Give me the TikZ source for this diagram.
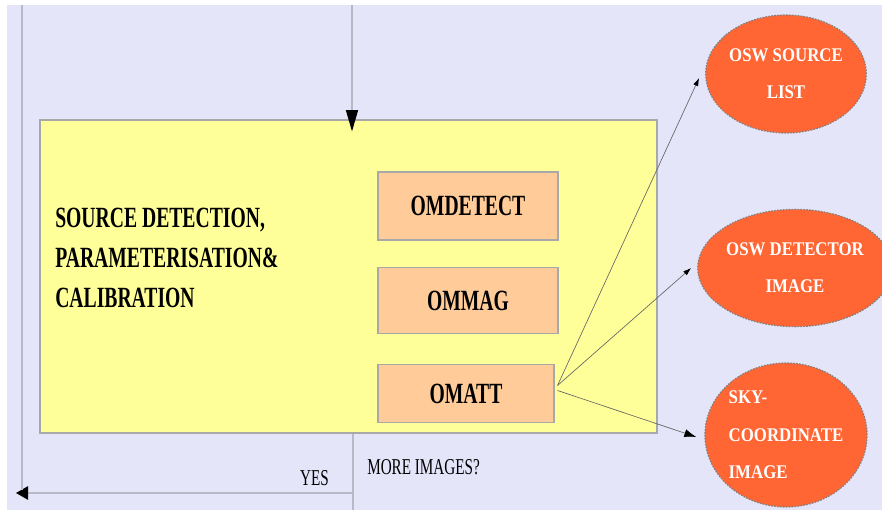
\documentclass[tikz,border=0pt]{standalone}
\usepackage{fontspec}
\setmainfont{Liberation Serif}
\newfontfamily\narrowfont[FakeStretch=0.67]{Liberation Serif}
\newfontfamily\ovalfont[FakeStretch=0.87]{Liberation Serif}
\usetikzlibrary{arrows.meta,positioning,calc,shapes.geometric}

\definecolor{panelbg}{HTML}{E5E5FA}
\definecolor{procyellow}{HTML}{FFFF99}
\definecolor{taskpeach}{HTML}{FFCC99}
\definecolor{ovalred}{HTML}{FF6633}
\definecolor{boxline}{HTML}{A8A8A8}
\definecolor{flowgray}{HTML}{B8B8C6}

\tikzset{
	procbox/.style={draw=boxline, line width=0.8pt, fill=procyellow, inner sep=0pt},
	taskbox/.style={draw=boxline, line width=0.8pt, fill=taskpeach, inner sep=0pt,
		font=\narrowfont\bfseries\fontsize{22}{26}\selectfont},
	product/.style={ellipse, draw=gray, line width=0.9pt, dash pattern=on 1.2pt off 1pt,
		fill=ovalred, text=white, inner sep=0pt,
		font=\ovalfont\bfseries\fontsize{14.5}{28}\selectfont},
	stagetext/.style={inner sep=0pt, align=left,
		font=\narrowfont\bfseries\fontsize{22}{30}\selectfont},
	note/.style={inner sep=0pt, font=\narrowfont\fontsize{17}{20}\selectfont},
	flow/.style={draw=flowgray, line width=1.2pt},
	link/.style={draw=black!60, line width=0.5pt, -{Latex[length=6pt,width=4pt,color=black]}},
}

\begin{document}
\begin{tikzpicture}[x=0.75pt, y=-0.75pt]
		\useasboundingbox (0,0) rectangle (882,510);
		\fill[white] (0,0) rectangle (882,510);
		\fill[panelbg] (7,5) rectangle (882,510);

		% processing stage
		\node[procbox, minimum width=462.75pt, minimum height=234.75pt] (proc) at (348.5,276.5) {};
		\node[stagetext, anchor=west] (stage) at (55,258)
			{SOURCE DETECTION,\\PARAMETERISATION\&\\CALIBRATION};
		\node[taskbox, minimum width=135pt, minimum height=51pt] (detect) at (468,206) {OMDETECT};
		\node[taskbox, minimum width=135pt, minimum height=49pt] (mag) at (468,300.5) {OMMAG};
		\node[taskbox, minimum width=132pt, minimum height=44pt] (att) at (466,393.5) {OMATT};

		% output products
		\node[product, minimum width=119pt, minimum height=88.5pt, align=center] (srclist) at (786,74)
			{OSW SOURCE\\LIST};
		\node[product, minimum width=122pt, minimum height=88pt, align=center] (detimg) at (795,268)
			{OSW DETECTOR\\IMAGE};
		\node[product, minimum width=118.5pt, minimum height=108pt, align=left] (skyimg) at (786,435)
			{SKY-\\COORDINATE\\IMAGE};

		\coordinate (fan) at ($(att.east)+(3,-8)$);
		\draw[link] (fan) -- ($(srclist.west)+(-6,4)$);
		\draw[link] (fan) -- ($(detimg.west)+(-6,0)$);
		\draw[link, -{Latex[length=9pt,width=6pt,color=black]}] ($(att.east)+(3,-3)$) -- ($(skyimg.west)+(-8,2)$);

		% flow in and loop back
		\coordinate (feed) at (352,5);
		\draw[flow, -{Triangle[length=16pt,width=9pt,color=black]}, shorten >=-9pt] (feed) -- (proc.north -| feed);
		\coordinate (exit) at (353,510);
		\draw[flow] (proc.south -| exit) -- (exit);
		\coordinate (ret) at (353,493);
		\coordinate (back) at (16,493);
		\draw[flow, -{Triangle[length=9pt,width=10pt,color=black]}] (ret) -- (back);
		\coordinate (up) at (22,5);
		\draw[flow] (up) -- ($(up |- back)+(0,-3)$);

		\node[note, anchor=east] (yes) at (329,478) {YES};
		\node[note, anchor=west] (more) at (367,467) {MORE IMAGES?};
	\end{tikzpicture}
\end{document}
